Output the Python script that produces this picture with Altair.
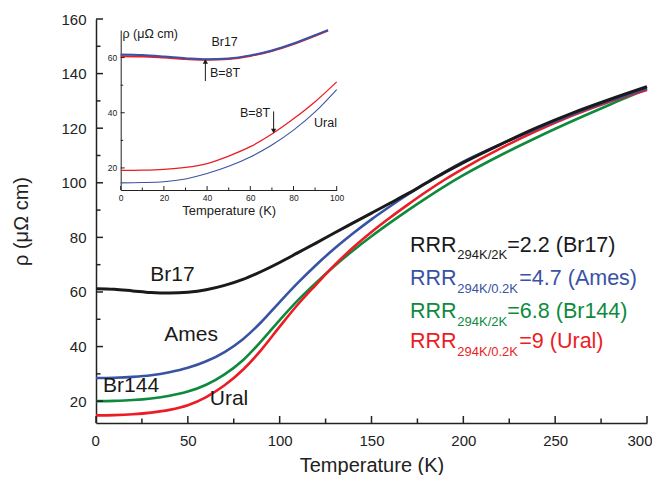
import altair as alt
import pandas as pd

# ---------------- data ----------------
T = [0, 10, 20, 30, 40, 50, 60, 70, 80, 90, 100, 110, 120, 130, 140, 150,
     160, 170, 180, 190, 200, 220, 240, 260, 280, 300]
rho_br17 = [61.2, 61.0, 60.4, 59.8, 59.6, 59.9, 60.8, 62.4, 64.6, 67.5, 70.8, 74.4, 78.0, 81.7,
            85.3, 88.9, 92.5, 96.1, 100.0, 103.8, 107.4, 114.0, 120.2, 125.7, 130.6, 135.2]
rho_ames = [28.5, 28.6, 28.9, 29.5, 30.6, 32.2, 34.6, 38.0, 42.7, 49.0, 56.3, 63.4, 70.0, 76.0,
            81.5, 86.6, 91.3, 95.8, 100.0, 104.0, 107.7, 114.0, 119.8, 125.2, 130.1, 134.6]
rho_br144 = [20.0, 20.1, 20.4, 21.0, 22.0, 23.5, 26.0, 29.8, 35.0, 42.0, 49.7, 57.0, 63.5, 69.6,
             75.2, 80.4, 85.3, 90.0, 94.5, 98.8, 102.8, 110.0, 116.6, 122.8, 128.7, 134.3]
rho_ural = [14.8, 14.9, 15.2, 15.8, 16.8, 18.5, 21.5, 25.8, 31.5, 38.8, 47.3, 55.5, 62.8, 69.9,
            76.3, 82.0, 87.2, 92.1, 96.8, 101.2, 105.2, 112.5, 119.0, 124.8, 129.8, 134.0]

# inset
T_in_br17 = [0, 10, 20, 30, 40, 50, 60, 70, 80, 90, 96]
rho_in_br17_b0 = [61.1, 60.9, 60.4, 59.8, 59.4, 59.7, 60.8, 62.6, 65.1, 68.1, 70.0]
rho_in_br17_b8 = [60.5, 60.4, 60.0, 59.5, 59.2, 59.5, 60.6, 62.4, 64.9, 67.9, 69.8]
T_in_ural = [0, 10, 20, 30, 40, 50, 60, 70, 80, 90, 100]
rho_in_ural_b0 = [14.6, 14.7, 15.0, 16.0, 18.0, 20.6, 24.0, 28.3, 33.7, 40.3, 48.4]
rho_in_ural_b8 = [19.1, 19.2, 19.5, 20.2, 21.6, 24.3, 27.7, 32.3, 37.8, 44.0, 51.2]

sample_names = ["Br17", "Ames", "Br144", "Ural"]
rrr_sub = ["294K/2K", "294K/0.2K", "294K/2K", "294K/0.2K"]
rrr_val = ["=2.2 (Br17)", "=4.7 (Ames)", "=6.8 (Br144)", "=9 (Ural)"]

main_x_ticks = [0, 50, 100, 150, 200, 250, 300]
main_x_minor = [25, 75, 125, 175, 225, 275]
main_y_ticks = [20, 40, 60, 80, 100, 120, 140, 160]
main_y_minor = [30, 50, 70, 90, 110, 130, 150]
in_x_ticks = [0, 20, 40, 60, 80, 100]
in_x_minor = [10, 30, 50, 70, 90]
in_y_ticks = [20, 40, 60]
in_y_minor = [30, 50]

# ---------------- styles / layout ----------------
FONT = "Liberation Sans"
COL = {"Br17": "#1a1a1a", "Ames": "#3953a4", "Br144": "#0e8a3e", "Ural": "#ec1c24"}
W, H = 551, 404
IN_X0, IN_X1 = 24.7, 240.7
IN_YB, IN_YT = 171, 11
AX = "#222222"

main_x = alt.Scale(domain=[0, 300], range=[0, W], nice=False, zero=False)
main_y = alt.Scale(domain=[12, 160], range=[H, 0], nice=False, zero=False)
in_x = alt.Scale(domain=[0, 100], range=[IN_X0, IN_X1], nice=False, zero=False)
in_y = alt.Scale(domain=[12, 70], range=[IN_YB, IN_YT], nice=False, zero=False)

common_axis = dict(ticks=False, tickSize=0, grid=False, labelFont=FONT, titleFont=FONT,
                   labelColor=AX, titleColor=AX, domainColor=AX, titleFontWeight="normal",
                   labelOverlap=False)

main_x_axis = alt.Axis(orient="bottom", values=main_x_ticks, title="Temperature (K)",
                       labelFontSize=15, labelPadding=10, titleFontSize=20, titlePadding=7,
                       labelFlush=True, labelFlushOffset=5,
                       domainWidth=1.5, format="d", **common_axis)
main_y_axis = alt.Axis(orient="left", values=main_y_ticks, title="ρ (μΩ cm)",
                       labelFontSize=15, labelPadding=10, titleFontSize=20, titlePadding=29,
                       labelFlush=False,
                       domainWidth=1.5, format="d", **common_axis)
in_x_axis = alt.Axis(orient="bottom", values=in_x_ticks, title="Temperature (K)",
                     offset=-(H - IN_YB), labelFontSize=8.5, labelPadding=3, labelFlush=False,
                     titleFontSize=13, titlePadding=3, domainWidth=1, format="d", **common_axis)
in_y_axis = alt.Axis(orient="left", values=in_y_ticks, title=None, offset=-IN_X0,
                     labelFontSize=8.5, labelPadding=4, labelFlush=False,
                     domainWidth=1, format="d", **common_axis)

layers = []

# main curves
main_series = {"Br17": rho_br17, "Ames": rho_ames, "Br144": rho_br144, "Ural": rho_ural}
for i, name in enumerate(["Br144", "Ural", "Ames", "Br17"]):
    df = pd.DataFrame({"T": T, "rho": main_series[name]})
    xa = main_x_axis if name == "Br17" else None
    ya = main_y_axis if name == "Br17" else None
    layers.append(
        alt.Chart(df).mark_line(color=COL[name], strokeWidth=3 if name == "Br17" else 2.6,
                                interpolate="monotone")
        .encode(x=alt.X("T:Q", scale=main_x, axis=xa), y=alt.Y("rho:Q", scale=main_y, axis=ya))
    )

# ticks (inward)
def xticks(vals, scale, ybase, length, width):
    return alt.Chart(pd.DataFrame({"v": vals})).mark_rule(color=AX, strokeWidth=width).encode(
        x=alt.X("v:Q", scale=scale, axis=None), y=alt.value(ybase), y2=alt.value(ybase - length))

def yticks(vals, scale, xbase, length, width):
    return alt.Chart(pd.DataFrame({"v": vals})).mark_rule(color=AX, strokeWidth=width).encode(
        y=alt.Y("v:Q", scale=scale, axis=None), x=alt.value(xbase), x2=alt.value(xbase + length))

layers += [xticks(main_x_ticks, main_x, H, 7, 1.5), xticks(main_x_minor, main_x, H, 4.5, 1.5),
           yticks(main_y_ticks, main_y, 0, 7, 1.5), yticks(main_y_minor, main_y, 0, 4.5, 1.5)]

# main annotations (data coordinates)
ann_main = pd.DataFrame({"t": sample_names, "T": [41.6, 51.8, 19.1, 72.4], "rho": [66.2, 44.2, 25.4, 20.8]})
layers.append(alt.Chart(ann_main).mark_text(font=FONT, fontSize=21, color="#1a1a1a",
                                            align="center", baseline="middle")
              .encode(x=alt.X("T:Q", scale=main_x, axis=None), y=alt.Y("rho:Q", scale=main_y, axis=None),
                      text="t:N"))

# RRR legend block (pixel layout)
base_y = [232.7, 266.0, 299.3, 329.3]
for k, name in enumerate(sample_names):
    c = COL[name]
    x_val = 411.3 if rrr_sub[k] == "294K/2K" else 423.3
    pieces = [("RRR", 314, base_y[k], 21.5), (rrr_sub[k], 361.3, base_y[k] + 7.5, 13),
              (rrr_val[k], x_val, base_y[k], 21.5)]
    for txt, px, py, fs in pieces:
        layers.append(alt.Chart(pd.DataFrame({"t": [txt]})).mark_text(
            font=FONT, fontSize=fs, color=c, align="left", baseline="alphabetic")
            .encode(text="t:N", x=alt.value(px), y=alt.value(py)))

# inset curves
inset_curves = [
    (T_in_br17, rho_in_br17_b8, COL["Ural"], 2.0),
    (T_in_br17, rho_in_br17_b0, COL["Ames"], 2.0),
    (T_in_ural, rho_in_ural_b8, COL["Ural"], 1.3),
    (T_in_ural, rho_in_ural_b0, COL["Ames"], 1.1),
]
for j, (tt, rr, c, sw) in enumerate(inset_curves):
    df = pd.DataFrame({"T": tt, "rho": rr})
    layers.append(alt.Chart(df).mark_line(color=c, strokeWidth=sw, interpolate="monotone")
                  .encode(x=alt.X("T:Q", scale=in_x, axis=in_x_axis if j == 0 else None),
                          y=alt.Y("rho:Q", scale=in_y, axis=in_y_axis if j == 0 else None)))

layers += [xticks(in_x_ticks, in_x, IN_YB, 4, 1), xticks(in_x_minor, in_x, IN_YB, 2.5, 1),
           yticks(in_y_ticks, in_y, IN_X0, 4, 1), yticks(in_y_minor, in_y, IN_X0, 2.5, 1)]

# inset annotations
ann_in = pd.DataFrame({
    "t": ["ρ (μΩ cm)", "Br17", "B=8T", "B=8T", "Ural"],
    "T": [0.8, 42.0, 41.3, 69.2, 89.5],
    "rho": [68.6, 65.5, 54.3, 39.8, 36.2],
    "al": ["left", "left", "left", "right", "left"],
})
for al in ["left", "right"]:
    layers.append(alt.Chart(ann_in).transform_filter(alt.datum.al == al)
                  .mark_text(font=FONT, fontSize=12.5, color="#1a1a1a", align=al, baseline="middle")
                  .encode(x=alt.X("T:Q", scale=in_x, axis=None), y=alt.Y("rho:Q", scale=in_y, axis=None),
                          text="t:N"))

# arrows in inset
arrows = pd.DataFrame({"T": [39.2, 70.8], "r0": [51.5, 40.5], "r1": [58.6, 33.4],
                       "shape": ["triangle-up", "triangle-down"]})
layers.append(alt.Chart(arrows).mark_rule(color="#1a1a1a", strokeWidth=1)
              .encode(x=alt.X("T:Q", scale=in_x, axis=None), y=alt.Y("r0:Q", scale=in_y, axis=None),
                      y2="r1:Q"))
for shp in ["triangle-up", "triangle-down"]:
    layers.append(alt.Chart(arrows).transform_filter(alt.datum.shape == shp)
                  .mark_point(shape=shp, filled=True, color="#1a1a1a", size=28, opacity=1)
                  .encode(x=alt.X("T:Q", scale=in_x, axis=None), y=alt.Y("r1:Q", scale=in_y, axis=None)))

chart = alt.layer(*layers).resolve_scale(x="independent", y="independent").properties(
    width=W, height=H,
    autosize=alt.AutoSizeParams(type="none"),
    padding={"left": 88, "top": 11, "right": 5, "bottom": 52},
    background="white",
).configure_view(stroke=None)

chart.save("out.html", embed_options={"renderer": "svg", "actions": False})
